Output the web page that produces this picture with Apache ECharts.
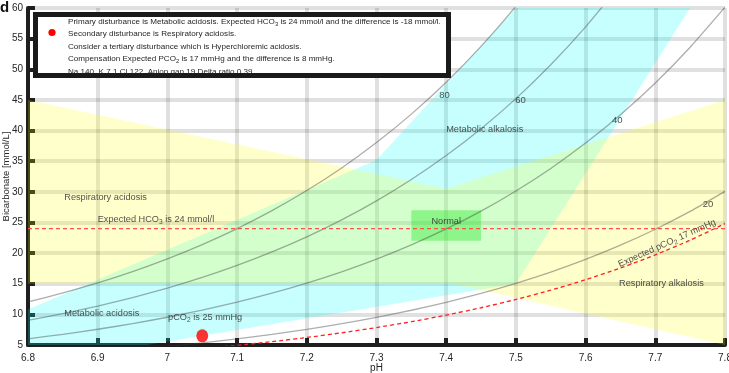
<!DOCTYPE html>
<html><head><meta charset="utf-8">
<script src="https://cdn.jsdelivr.net/npm/echarts@6/dist/echarts.min.js"></script>
<style>html,body{margin:0;padding:0;background:#fff}#c{width:729px;height:373px}</style>
</head><body><div id="c"></div>
<script>
// ---- data ----
const curvePH = [6.80,6.85,6.90,6.95,7.00,7.05,7.10,7.15,7.20,7.25,7.30,7.35,7.40,7.45,7.50,7.55,7.60,7.65,7.70,7.75,7.80];
const iso80 = [12.03,13.50,15.14,16.99,19.06,21.39,24.00,26.93,30.21,33.90,38.04,42.68,47.89,53.73,60.29,67.64];
const iso60 = [9.02,10.12,11.36,12.74,14.30,16.04,18.00,20.20,22.66,25.43,28.53,32.01,35.92,40.30,45.21,50.73,56.92,63.86];
const iso40 = [6.01,6.75,7.57,8.49,9.53,10.70,12.00,13.46,15.11,16.95,19.02,21.34,23.94,26.86,30.14,33.82,37.95,42.58,47.77,53.60,60.14];
const iso20 = [3.01,3.37,3.79,4.25,4.77,5.35,6.00,6.73,7.55,8.48,9.51,10.67,11.97,13.43,15.07,16.91,18.97,21.29,23.89,26.80,30.07];
const expectedPCO2Curve = [2.48,2.78,3.12,3.50,3.93,4.41,4.95,5.55,6.23,6.99,7.85,8.80,9.88,11.08,12.43,13.95,15.65,17.56,19.71,22.11,24.81];

const metabolicPH   = [6.80, 6.97, 7.50, 7.75, 7.50, 7.30, 6.80];
const metabolicHCO3 = [5, 5, 15, 60, 60, 35.2, 10.8];
const respiratoryPH   = [6.80, 7.40, 7.80, 7.80, 7.41, 6.80];
const respiratoryHCO3 = [45, 30.5, 45, 5, 15, 15];
const normalPH = [7.35, 7.45];
const normalHCO3 = [22, 27];

const expectedHCO3 = 24;
const patientPH = 7.05, patientHCO3 = 6.5;

const regionText = ['Respiratory acidosis', 'Expected HCO{s|3} is 24 mmol/l', 'Metabolic acidosis', 'pCO{s|2} is 25 mmHg', 'Metabolic alkalosis', 'Respiratory alkalosis'];
const regionPH   = [6.852, 6.900, 6.852, 7.001, 7.400, 7.648];
const regionHCO3 = [29.0, 25.5, 10.1, 9.5, 40.1, 15.0];

const isoText = ['80', '60', '40', '20'];
const isoLabelPH = [7.390, 7.499, 7.638, 7.768];
const isoLabelHCO3 = [45.8, 45.0, 41.6, 28.0];

const expPCO2Text = 'Expected pCO{s|2} 17 mmHg';
const expPCO2LabelPH = 7.717, expPCO2LabelHCO3 = 21.6;

const infoLines = [
  'Primary disturbance is Metabolic acidosis. Expected HCO{s|3} is 24 mmol/l and the difference is -18 mmol/l.',
  'Secondary disturbance is Respiratory acidosis.',
  'Consider a tertiary disturbance which is Hyperchloremic acidosis.',
  'Compensation Expected PCO{s|2} is 17 mmHg and the difference is 8 mmHg.',
  'Na 140  K 7.1 Cl 122  Anion gap 19 Delta ratio 0.39.'
];

// ---- chart ----
const FONT = 'Liberation Sans, Arial, sans-serif';
const TXT = '#262626';
const subRich = (fs) => ({ s: { fontSize: fs * 0.72, fontFamily: FONT, color: TXT, padding: [fs * 0.6, 0, 0, 0] } });

function poly(phs, hs, fill, z) {
  return {
    type: 'custom', silent: true, z: z, data: [[phs[0], hs[0]]],
    renderItem: (params, api) => ({
      type: 'polygon',
      shape: { points: phs.map((p, i) => api.coord([p, hs[i]])) },
      style: { fill: fill }
    })
  };
}
function curve(vals, color, width, type, z) {
  return {
    type: 'line', silent: true, z: z, symbol: 'none', smooth: 0.2, clip: true,
    data: vals.map((v, i) => [curvePH[i], v]),
    lineStyle: { color: color, width: width, type: type }
  };
}

const chart = echarts.init(document.getElementById('c'), null, { renderer: 'canvas' });
const axisCommon = {
  type: 'value',
  axisLine: { show: true, onZero: false, lineStyle: { color: '#1f1f1f', width: 4 } },
  axisTick: { show: true, inside: true, length: 7, lineStyle: { color: '#1f1f1f', width: 4 } },
  axisLabel: { fontSize: 10, color: TXT, fontFamily: FONT },
  splitLine: { show: true, lineStyle: { color: 'rgba(0,0,0,0.12)', width: 4 } },
  nameLocation: 'middle',
  nameMoveOverlap: false,
  nameTextStyle: { fontSize: 10, color: TXT, fontFamily: FONT }
};

chart.setOption({
  animation: false,
  grid: { left: 28, right: 4, top: 8, bottom: 28, containLabel: false, outerBoundsMode: 'none' },
  xAxis: Object.assign({}, axisCommon, {
    min: 6.8, max: 7.8, interval: 0.1, name: 'pH', nameGap: 18,
    axisLabel: Object.assign({}, axisCommon.axisLabel, { margin: 8 })
  }),
  yAxis: Object.assign({}, axisCommon, {
    min: 5, max: 60, interval: 5, name: 'Bicarbonate [mmol/L]', nameGap: 16.5,
    nameTextStyle: { fontSize: 9.5, color: TXT, fontFamily: FONT },
    axisLabel: Object.assign({}, axisCommon.axisLabel, { margin: 5 })
  }),
  series: [
    poly(metabolicPH, metabolicHCO3, 'rgba(0,255,255,0.22)', 2),
    poly(respiratoryPH, respiratoryHCO3, 'rgba(255,255,0,0.2)', 2),
    poly([normalPH[0], normalPH[1], normalPH[1], normalPH[0]], [normalHCO3[0], normalHCO3[0], normalHCO3[1], normalHCO3[1]], 'rgba(40,230,40,0.4)', 3),
    curve(iso80, 'rgba(60,60,60,0.42)', 1.3, 'solid', 4),
    curve(iso60, 'rgba(60,60,60,0.42)', 1.3, 'solid', 4),
    curve(iso40, 'rgba(60,60,60,0.42)', 1.3, 'solid', 4),
    curve(iso20, 'rgba(60,60,60,0.42)', 1.3, 'solid', 4),
    curve(expectedPCO2Curve, '#ff2020', 1.3, [4, 3], 5),
    {
      type: 'line', silent: true, z: 5, symbol: 'none',
      data: [[6.8, expectedHCO3], [7.8, expectedHCO3]],
      lineStyle: { color: '#ff5050', width: 1.3, type: [4, 3] }
    },
    {
      type: 'scatter', silent: true, z: 6, symbolSize: 0,
      itemStyle: { color: 'transparent' },
      data: regionText.map((t, i) => ({ value: [regionPH[i], regionHCO3[i]], name: t })),
      label: { show: true, position: 'right', distance: 0, formatter: p => p.name,
        fontSize: 9.2, color: TXT, fontFamily: FONT, rich: subRich(9.2) }
    },
    {
      type: 'scatter', silent: true, z: 6, symbolSize: 0,
      itemStyle: { color: 'transparent' },
      data: [{ value: [(normalPH[0] + normalPH[1]) / 2, 25.1], name: 'Normal' }],
      label: { show: true, position: 'inside', formatter: p => p.name,
        fontSize: 9.2, color: TXT, fontFamily: FONT }
    },
    {
      type: 'scatter', silent: true, z: 6, symbolSize: 0,
      itemStyle: { color: 'transparent' },
      data: isoText.map((t, i) => ({ value: [isoLabelPH[i], isoLabelHCO3[i]], name: t })),
      label: { show: true, position: 'right', distance: 0, formatter: p => p.name,
        fontSize: 9.5, color: TXT, fontFamily: FONT }
    },
    {
      type: 'scatter', silent: true, z: 6, symbolSize: 0,
      itemStyle: { color: 'transparent' },
      data: [{ value: [expPCO2LabelPH, expPCO2LabelHCO3], name: expPCO2Text }],
      label: { show: true, position: 'inside', rotate: 24, formatter: p => p.name,
        fontSize: 9.2, color: TXT, fontFamily: FONT, rich: subRich(9.2) }
    },
    {
      type: 'scatter', silent: true, z: 7, symbolSize: [12, 13],
      itemStyle: { color: '#ff0000' },
      data: [[patientPH, patientHCO3]]
    }
  ],
  graphic: [
    { type: 'rect', z: 100, shape: { x: 35.5, y: 14.5, width: 413, height: 61 },
      style: { fill: '#fff', stroke: '#1a1a1a', lineWidth: 5 } },
    { type: 'circle', z: 101, shape: { cx: 52, cy: 32.5, r: 3.6 }, style: { fill: '#ff0000' } }
  ].concat(infoLines.map((t, i) => ({
    type: 'text', z: 101, x: 68, y: 21.7 + i * 12.5,
    style: { text: t, fontSize: 8.1, fontFamily: FONT, fill: TXT, verticalAlign: 'middle', rich: subRich(8.1) }
  }))).concat([
    { type: 'text', z: 101, x: 0, y: 8, style: { text: 'd', fontSize: 15, fontWeight: 'bold', fontFamily: FONT, fill: '#111', verticalAlign: 'middle' } }
  ])
});
</script>
</body></html>
